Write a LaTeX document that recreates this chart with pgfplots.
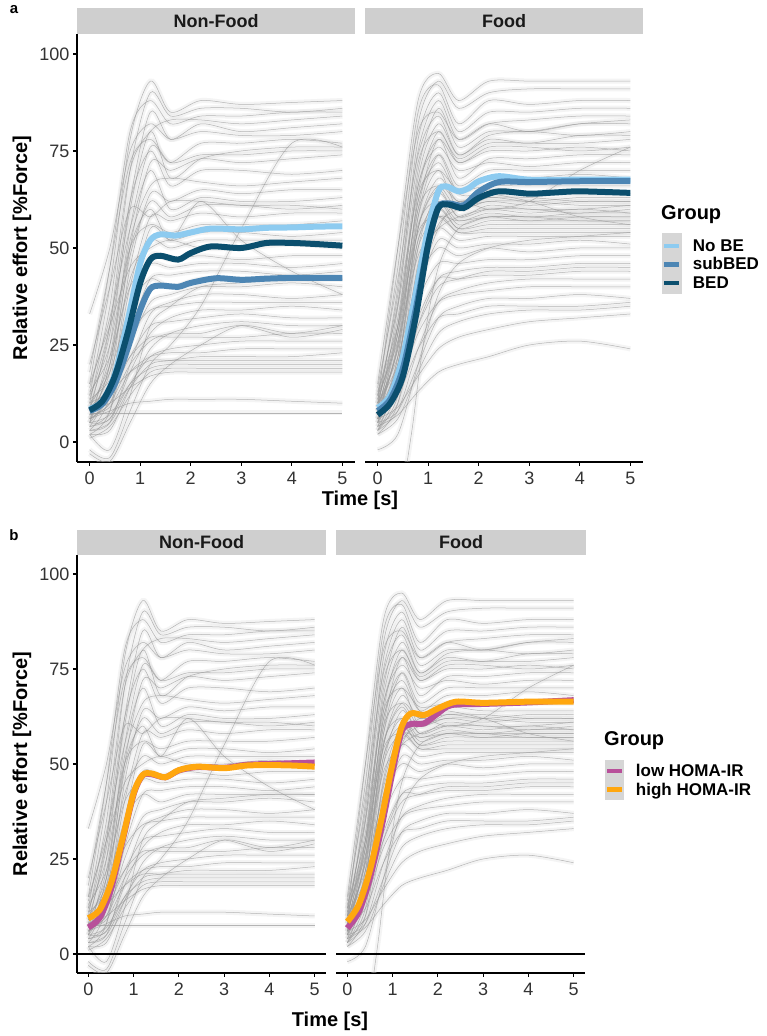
\documentclass[border=0pt]{standalone}
\usepackage{pgfplots}
\pgfplotsset{compat=1.18}
\usepackage{fontspec}
\setmainfont{Liberation Sans}
\definecolor{noBE}{HTML}{8DCBF0}
\definecolor{subBED}{HTML}{4D86B4}
\definecolor{BED}{HTML}{0B4F6E}
\definecolor{lowH}{HTML}{B8509A}
\definecolor{highH}{HTML}{FFA70F}
\definecolor{stripgray}{HTML}{CFCFCF}
\definecolor{keygray}{HTML}{D6D6D6}
\definecolor{tickgray}{HTML}{333333}
\newcommand{\lstrut}{\rule[-4pt]{0pt}{16pt}}

\newcommand{\NFlines}[1]{%
\addplot[#1] coordinates {(0,12)(0.4,40)(0.8,78)(1.2,93)(1.6,85)(2.2,88)(3,87)(4,87.5)(5,88)};
\addplot[#1] coordinates {(0,8)(0.4,30)(0.8,70)(1.2,90)(1.6,84)(2.2,86)(3,86)(4,85)(5,86)};
\addplot[#1] coordinates {(0,15)(0.4,45)(0.8,80)(1.2,88)(1.6,82)(2.2,84)(3,84)(4,85)(5,85)};
\addplot[#1] coordinates {(0,5)(0.4,25)(0.8,62)(1.2,85)(1.6,78)(2.2,82)(3,80)(4,81)(5,82)};
\addplot[#1] coordinates {(0,10)(0.4,35)(0.8,70)(1.2,80)(1.6,83)(2.2,83)(3,82)(4,83)(5,84)};
\addplot[#1] coordinates {(0,33)(0.4,50)(0.8,75)(1.2,82)(1.6,78)(2.2,80)(3,79)(4,79)(5,80)};
\addplot[#1] coordinates {(0,6)(0.4,20)(0.8,55)(1.2,76)(1.6,72)(2.2,77)(3,77)(4,78)(5,77)};
\addplot[#1] coordinates {(0,9)(0.4,28)(0.8,60)(1.2,80)(1.6,68)(2.2,73)(3,75)(4,76)(5,76)};
\addplot[#1] coordinates {(0,4)(0.4,15)(0.8,50)(1.2,72)(1.6,70)(2.2,73)(3,72)(4,73)(5,74)};
\addplot[#1] coordinates {(0,11)(0.4,30)(0.8,62)(1.2,75)(1.6,66)(2.2,70)(3,70)(4,69)(5,70)};
\addplot[#1] coordinates {(0,7)(0.4,22)(0.8,52)(1.2,66)(1.6,68)(2.2,67)(3,66)(4,67)(5,68)};
\addplot[#1] coordinates {(0,3)(0.4,12)(0.8,45)(1.2,64)(1.6,62)(2.2,65)(3,64)(4,65)(5,65)};
\addplot[#1] coordinates {(0,14)(0.4,32)(0.8,55)(1.2,70)(1.6,60)(2.2,63)(3,62)(4,62)(5,63)};
\addplot[#1] coordinates {(0,8)(0.4,18)(0.8,48)(1.2,62)(1.6,58)(2.2,61)(3,61)(4,60)(5,61)};
\addplot[#1] coordinates {(0,5)(0.4,14)(0.8,40)(1.2,58)(1.6,57)(2.2,59)(3,58)(4,59)(5,59)};
\addplot[#1] coordinates {(0,12)(0.4,25)(0.8,50)(1.2,56)(1.6,54)(2.2,56)(3,56)(4,56)(5,57)};
\addplot[#1] coordinates {(0,2)(0.4,8)(0.8,35)(1.2,55)(1.6,52)(2.2,54)(3,54)(4,53)(5,54)};
\addplot[#1] coordinates {(0,9)(0.4,20)(0.8,42)(1.2,52)(1.6,50)(2.2,52)(3,52)(4,52)(5,52)};
\addplot[#1] coordinates {(0,6)(0.4,12)(0.8,35)(1.2,48)(1.6,47)(2.2,48)(3,47)(4,48)(5,48)};
\addplot[#1] coordinates {(0,13)(0.4,22)(0.8,40)(1.2,46)(1.6,45)(2.2,46)(3,46)(4,45)(5,46)};
\addplot[#1] coordinates {(0,4)(0.4,8)(0.8,28)(1.2,42)(1.6,43)(2.2,44)(3,44)(4,43)(5,44)};
\addplot[#1] coordinates {(0,10)(0.4,18)(0.8,35)(1.2,42)(1.6,40)(2.2,42)(3,42)(4,42)(5,42)};
\addplot[#1] coordinates {(0,7)(0.4,10)(0.8,25)(1.2,36)(1.6,38)(2.2,40)(3,40)(4,41)(5,40)};
\addplot[#1] coordinates {(0,3)(0.4,5)(0.8,20)(1.2,33)(1.6,36)(2.2,38)(3,38)(4,37)(5,38)};
\addplot[#1] coordinates {(0,11)(0.4,16)(0.8,28)(1.2,34)(1.6,35)(2.2,36)(3,36)(4,36)(5,36)};
\addplot[#1] coordinates {(0,5)(0.4,6)(0.8,18)(1.2,28)(1.6,32)(2.2,34)(3,34)(4,35)(5,34)};
\addplot[#1] coordinates {(0,8)(0.4,12)(0.8,22)(1.2,30)(1.6,31)(2.2,32)(3,33)(4,32)(5,32)};
\addplot[#1] coordinates {(0,2)(0.4,3)(0.8,14)(1.2,24)(1.6,28)(2.2,30)(3,31)(4,30)(5,30)};
\addplot[#1] coordinates {(0,6)(0.4,10)(0.8,20)(1.2,26)(1.6,28)(2.2,28)(3,30)(4,27)(5,29)};
\addplot[#1] coordinates {(0,9)(0.4,14)(0.8,22)(1.2,27)(1.6,27)(2.2,27)(3,27)(4,28)(5,28)};
\addplot[#1] coordinates {(0,4)(0.4,6)(0.8,15)(1.2,22)(1.6,24)(2.2,25)(3,26)(4,26)(5,26)};
\addplot[#1] coordinates {(0,7)(0.4,9)(0.8,18)(1.2,22)(1.6,23)(2.2,23)(3,24)(4,24)(5,24)};
\addplot[#1] coordinates {(0,3)(0.4,5)(0.8,14)(1.2,20)(1.6,21)(2.2,22)(3,22)(4,22)(5,23)};
\addplot[#1] coordinates {(0,10)(0.4,13)(0.8,18)(1.2,21)(1.6,21)(2.2,21)(3,21)(4,21)(5,21)};
\addplot[#1] coordinates {(0,5)(0.4,7)(0.8,15)(1.2,19)(1.6,20)(2.2,20)(3,20)(4,20)(5,20)};
\addplot[#1] coordinates {(0,1)(0.4,4)(0.8,12)(1.2,18)(1.6,19)(2.2,19)(3,19)(4,19)(5,19)};
\addplot[#1] coordinates {(0,8)(0.4,10)(0.8,14)(1.2,17)(1.6,18)(2.2,18)(3,18)(4,18)(5,18)};
\addplot[#1] coordinates {(0,6)(0.4,8)(0.8,10)(1.2,10.5)(1.6,11)(2.2,11)(3,11)(4,10.5)(5,10)};
\addplot[#1] coordinates {(0,7.5)(0.4,7.5)(0.8,7.5)(1.2,7.5)(1.6,7.5)(2.2,7.5)(3,7.5)(4,7.5)(5,7.5)};
\addplot[#1] coordinates {(0,-2)(0.4,-4)(0.8,8)(1.2,20)(1.6,25)(2.2,35)(3,55)(4,77)(5,76)};
\addplot[#1] coordinates {(0,5)(0.4,20)(0.8,50)(1.2,60)(1.6,52)(2.2,62)(3,52)(4,44)(5,38)};
\addplot[#1] coordinates {(0,-3)(0.4,-5)(0.8,5)(1.2,15)(1.6,20)(2.2,25)(3,30)(4,28)(5,30)};
\addplot[#1] coordinates {(0,18)(0.4,45)(0.8,72)(1.2,78)(1.6,72)(2.2,74)(3,74)(4,75)(5,75)};
\addplot[#1] coordinates {(0,20)(0.4,40)(0.8,60)(1.2,58)(1.6,62)(2.2,62)(3,61)(4,61)(5,60)};
\addplot[#1] coordinates {(0,2)(0.4,-2)(0.8,12)(1.2,30)(1.6,35)(2.2,40)(3,41)(4,42)(5,42)};
\addplot[#1] coordinates {(0,15)(0.4,30)(0.8,45)(1.2,50)(1.6,52)(2.2,50)(3,50)(4,51)(5,50)};
}

\newcommand{\Flines}[1]{%
\addplot[#1] coordinates {(0,10)(0.4,50)(0.8,88)(1.2,95)(1.6,88)(2.2,93)(3,93)(4,93)(5,93)};
\addplot[#1] coordinates {(0,8)(0.4,40)(0.8,82)(1.2,93)(1.6,86)(2.2,90)(3,91)(4,91)(5,91)};
\addplot[#1] coordinates {(0,12)(0.4,45)(0.8,85)(1.2,92)(1.6,82)(2.2,88)(3,87)(4,88)(5,88)};
\addplot[#1] coordinates {(0,6)(0.4,35)(0.8,78)(1.2,90)(1.6,80)(2.2,85)(3,85)(4,86)(5,86)};
\addplot[#1] coordinates {(0,9)(0.4,38)(0.8,75)(1.2,88)(1.6,78)(2.2,82)(3,83)(4,84)(5,84)};
\addplot[#1] coordinates {(0,5)(0.4,30)(0.8,70)(1.2,86)(1.6,76)(2.2,80)(3,80)(4,82)(5,82)};
\addplot[#1] coordinates {(0,14)(0.4,42)(0.8,74)(1.2,84)(1.6,74)(2.2,79)(3,80)(4,79)(5,80)};
\addplot[#1] coordinates {(0,7)(0.4,28)(0.8,68)(1.2,82)(1.6,74)(2.2,78)(3,77)(4,79)(5,79)};
\addplot[#1] coordinates {(0,11)(0.4,36)(0.8,72)(1.2,80)(1.6,73)(2.2,77)(3,77)(4,77)(5,78)};
\addplot[#1] coordinates {(0,4)(0.4,22)(0.8,64)(1.2,80)(1.6,72)(2.2,76)(3,76)(4,75)(5,76)};
\addplot[#1] coordinates {(0,8)(0.4,30)(0.8,66)(1.2,78)(1.6,72)(2.2,75)(3,75)(4,76)(5,75)};
\addplot[#1] coordinates {(0,6)(0.4,25)(0.8,60)(1.2,78)(1.6,68)(2.2,73)(3,73)(4,74)(5,74)};
\addplot[#1] coordinates {(0,10)(0.4,32)(0.8,66)(1.2,76)(1.6,70)(2.2,72)(3,71)(4,72)(5,72)};
\addplot[#1] coordinates {(0,3)(0.4,18)(0.8,58)(1.2,74)(1.6,66)(2.2,70)(3,70)(4,70)(5,70)};
\addplot[#1] coordinates {(0,9)(0.4,28)(0.8,62)(1.2,72)(1.6,64)(2.2,68)(3,68)(4,69)(5,68)};
\addplot[#1] coordinates {(0,12)(0.4,35)(0.8,64)(1.2,70)(1.6,65)(2.2,66)(3,66)(4,66)(5,66)};
\addplot[#1] coordinates {(0,5)(0.4,20)(0.8,55)(1.2,68)(1.6,62)(2.2,65)(3,64)(4,64)(5,64)};
\addplot[#1] coordinates {(0,7)(0.4,25)(0.8,58)(1.2,70)(1.6,60)(2.2,63)(3,62)(4,63)(5,63)};
\addplot[#1] coordinates {(0,10)(0.4,30)(0.8,60)(1.2,66)(1.6,60)(2.2,62)(3,61)(4,62)(5,62)};
\addplot[#1] coordinates {(0,4)(0.4,16)(0.8,50)(1.2,64)(1.6,58)(2.2,61)(3,60)(4,60)(5,61)};
\addplot[#1] coordinates {(0,8)(0.4,24)(0.8,55)(1.2,65)(1.6,58)(2.2,60)(3,60)(4,59)(5,60)};
\addplot[#1] coordinates {(0,6)(0.4,20)(0.8,52)(1.2,62)(1.6,57)(2.2,59)(3,58)(4,59)(5,59)};
\addplot[#1] coordinates {(0,11)(0.4,28)(0.8,56)(1.2,62)(1.6,56)(2.2,58)(3,57)(4,58)(5,58)};
\addplot[#1] coordinates {(0,3)(0.4,14)(0.8,46)(1.2,60)(1.6,55)(2.2,57)(3,57)(4,57)(5,57)};
\addplot[#1] coordinates {(0,9)(0.4,24)(0.8,52)(1.2,60)(1.6,55)(2.2,56)(3,56)(4,56)(5,56)};
\addplot[#1] coordinates {(0,5)(0.4,16)(0.8,45)(1.2,58)(1.6,54)(2.2,55)(3,55)(4,55)(5,55)};
\addplot[#1] coordinates {(0,13)(0.4,30)(0.8,54)(1.2,58)(1.6,54)(2.2,54)(3,54)(4,54)(5,54)};
\addplot[#1] coordinates {(0,7)(0.4,18)(0.8,44)(1.2,55)(1.6,52)(2.2,53)(3,53)(4,53)(5,53)};
\addplot[#1] coordinates {(0,2)(0.4,10)(0.8,38)(1.2,52)(1.6,50)(2.2,51)(3,51)(4,52)(5,51)};
\addplot[#1] coordinates {(0,10)(0.4,22)(0.8,42)(1.2,50)(1.6,48)(2.2,50)(3,49)(4,50)(5,50)};
\addplot[#1] coordinates {(0,6)(0.4,14)(0.8,36)(1.2,46)(1.6,46)(2.2,47)(3,47)(4,48)(5,48)};
\addplot[#1] coordinates {(0,4)(0.4,10)(0.8,30)(1.2,42)(1.6,44)(2.2,45)(3,45)(4,46)(5,46)};
\addplot[#1] coordinates {(0,8)(0.4,15)(0.8,32)(1.2,42)(1.6,42)(2.2,43)(3,43)(4,44)(5,44)};
\addplot[#1] coordinates {(0,3)(0.4,8)(0.8,24)(1.2,36)(1.6,39)(2.2,41)(3,42)(4,42)(5,42)};
\addplot[#1] coordinates {(0,9)(0.4,14)(0.8,28)(1.2,36)(1.6,38)(2.2,39)(3,40)(4,40)(5,40)};
\addplot[#1] coordinates {(0,5)(0.4,8)(0.8,20)(1.2,32)(1.6,35)(2.2,37)(3,37)(4,38)(5,37)};
\addplot[#1] coordinates {(0,7)(0.4,12)(0.8,24)(1.2,32)(1.6,33)(2.2,35)(3,35)(4,35)(5,36)};
\addplot[#1] coordinates {(0,2)(0.4,6)(0.8,18)(1.2,28)(1.6,31)(2.2,33)(3,34)(4,34)(5,35)};
\addplot[#1] coordinates {(0,6)(0.4,9)(0.8,17)(1.2,24)(1.6,27)(2.2,29)(3,31)(4,32)(5,33)};
\addplot[#1] coordinates {(0,4)(0.4,7)(0.8,13)(1.2,18)(1.6,20)(2.2,22)(3,25)(4,26)(5,24)};
\addplot[#1] coordinates {(0.55,-8)(0.7,5)(0.9,25)(1.2,45)(1.6,55)(2.2,58)(3,58)(4,58)(5,58)};
\addplot[#1] coordinates {(0,15)(0.4,50)(0.8,80)(1.2,85)(1.6,78)(2.2,82)(3,80)(4,82)(5,83)};
\addplot[#1] coordinates {(0,10)(0.4,20)(0.8,40)(1.2,55)(1.6,62)(2.2,60)(3,62)(4,70)(5,76)};
\addplot[#1] coordinates {(0,6)(0.4,26)(0.8,62)(1.2,74)(1.6,64)(2.2,64)(3,62)(4,58)(5,56)};
\addplot[#1] coordinates {(0,8)(0.4,20)(0.8,50)(1.2,58)(1.6,57)(2.2,58)(3,58)(4,57)(5,57)};
\addplot[#1] coordinates {(0,3)(0.4,12)(0.8,42)(1.2,56)(1.6,60)(2.2,62)(3,62)(4,61)(5,61)};
\addplot[#1] coordinates {(0,12)(0.4,26)(0.8,48)(1.2,55)(1.6,58)(2.2,60)(3,59)(4,60)(5,59)};
\addplot[#1] coordinates {(0,5)(0.4,22)(0.8,55)(1.2,66)(1.6,62)(2.2,63)(3,63)(4,62)(5,62)};
\addplot[#1] coordinates {(0,9)(0.4,16)(0.8,30)(1.2,40)(1.6,42)(2.2,44)(3,44)(4,45)(5,45)};
\addplot[#1] coordinates {(0,-2)(0.4,2)(0.8,20)(1.2,38)(1.6,46)(2.2,50)(3,52)(4,53)(5,54)};
}

\pgfplotsset{
  facet/.style={scale only axis, xmin=-0.25, xmax=5.25,
    axis line style={line width=1.1pt, black},
    every tick/.style={black, line width=1.1pt},
    major tick length=4pt, tick align=outside,
    xtick={0,1,2,3,4,5}, ytick={0,25,50,75,100},
    ticklabel style={font=\fontsize{18}{18}\selectfont, text=tickgray},
    xticklabel style={yshift=-2.5pt},
    /pgf/number format/assume math mode=true,
    legend cell align=left,
    legend image code/.code={%
      \path[draw=none, fill=none] (0pt,-1pt) rectangle (31pt,1pt);
      \draw[line width=4.5pt] (2.5pt,0pt) -- (17.5pt,0pt);},
    legend style={draw=none, fill=none, inner sep=0pt, outer sep=0pt,
      row sep=5pt, anchor=north west,
      font=\bfseries\fontsize{17}{17}\selectfont,
      nodes={inner sep=0pt}},
  },
  band/.style={smooth, line width=5pt, color=black!12, opacity=0.35, forget plot},
  gline/.style={smooth, line width=0.5pt, color=black!40, opacity=0.7, forget plot},
  mean/.style={smooth, line width=6pt},
}

\begin{document}
\begin{tikzpicture}
\useasboundingbox (0pt,0pt) rectangle (766pt,1036pt);
\fill[white] (0pt,0pt) rectangle (766pt,1036pt);
% legend key backgrounds
\fill[keygray] (662pt,742pt) rectangle (682pt,803pt);
\fill[keygray] (605pt,236pt) rectangle (624pt,276pt);

% ---------------- panel a, Non-Food
\begin{axis}[facet, at={(77pt,574pt)}, anchor=south west, width=278pt, height=428pt,
  ymin=-5.15, ymax=105.15, axis x line*=bottom, axis y line*=left]
\NFlines{band}
\NFlines{gline}
\addplot[mean, noBE] coordinates {(0,8.5)(0.25,10.5)(0.5,17.5)(0.75,31)(1,46)(1.2,52)(1.4,53.5)(1.7,53.2)(2,54)(2.4,55)(3,54.8)(3.5,55.2)(4,55.3)(4.5,55.5)(5,55.6)};
\addplot[mean, subBED] coordinates {(0,8)(0.25,9.8)(0.5,15)(0.75,24)(1,34)(1.2,39.5)(1.4,40.3)(1.75,40)(2,41)(2.5,42.2)(3,41.8)(3.5,42.1)(4,42.3)(4.5,42.3)(5,42.3)};
\addplot[mean, BED] coordinates {(0,8.2)(0.25,10.5)(0.5,17)(0.75,28)(1,41)(1.2,47)(1.4,48)(1.75,47)(2,48.7)(2.4,50.4)(3,50)(3.5,51.3)(4,51.3)(4.5,51)(5,50.6)};
\end{axis}

% ---------------- panel a, Food
\begin{axis}[facet, at={(365pt,574pt)}, anchor=south west, width=278pt, height=428pt,
  ymin=-5.15, ymax=105.15, axis x line*=bottom, hide y axis,
  legend style={at={(1.068,0.521)}}]
\Flines{band}
\Flines{gline}
\addplot[mean, noBE] coordinates {(0,8.8)(0.25,12)(0.5,22)(0.75,38)(1,55)(1.2,64.6)(1.35,65.9)(1.6,64.6)(1.8,65.4)(2,67.2)(2.4,68.5)(3,67.6)(4,67.6)(5,67.6)};
\addlegendentry{\lstrut No BE}
\addplot[mean, subBED] coordinates {(0,8)(0.25,11)(0.5,19)(0.75,34)(1,51)(1.2,60.5)(1.4,61.5)(1.7,61)(2,64.5)(2.4,67)(3,67)(4,67.2)(5,67.2)};
\addlegendentry{\lstrut subBED}
\addplot[mean, BED] coordinates {(0,7)(0.25,10)(0.5,17)(0.75,32)(1,51)(1.2,60.3)(1.4,61.2)(1.7,60.3)(2,62.9)(2.4,64.6)(3,64)(3.5,64.3)(4,64.6)(5,64.2)};
\addlegendentry{\lstrut BED}
\end{axis}

% ---------------- panel b, Non-Food
\begin{axis}[facet, at={(77pt,63pt)}, anchor=south west, width=249pt, height=418pt,
  ymin=-5, ymax=105, axis x line*=bottom, axis y line*=left]
\NFlines{band}
\NFlines{gline}
\addplot[black, line width=1.1pt, forget plot] coordinates {(-0.25,0)(5.25,0)};
\addplot[mean, lowH] coordinates {(0,7)(0.25,9.5)(0.5,17)(0.75,29.5)(1,42)(1.2,47)(1.4,47.3)(1.7,46.5)(2,48.3)(2.4,49.2)(3,49)(3.5,49.8)(4,50)(4.5,50.2)(5,50.4)};
\addplot[mean, highH] coordinates {(0,9.4)(0.25,11.6)(0.5,18.6)(0.75,30)(1,42.3)(1.2,47.1)(1.4,47.5)(1.7,46.5)(2,48.4)(2.4,49.3)(3,48.9)(3.5,49.6)(4,49.7)(4.5,49.6)(5,49.3)};
\end{axis}

% ---------------- panel b, Food
\begin{axis}[facet, at={(336pt,63pt)}, anchor=south west, width=249pt, height=418pt,
  ymin=-5, ymax=105, axis x line*=bottom, hide y axis,
  legend style={at={(1.08,0.5)}}]
\Flines{band}
\Flines{gline}
\addplot[black, line width=1.1pt, forget plot] coordinates {(-0.25,0)(5.25,0)};
\addplot[mean, lowH] coordinates {(0,6.8)(0.25,11)(0.5,20)(0.75,33)(1,48)(1.2,58.5)(1.4,60.5)(1.7,60.7)(2,63.3)(2.3,65.5)(3,65.8)(4,66.2)(5,66.8)};
\addlegendentry{\lstrut low HOMA-IR}
\addplot[mean, highH] coordinates {(0,8.5)(0.25,12.9)(0.5,22.1)(0.75,35.3)(1,50.2)(1.2,59.8)(1.4,63.3)(1.7,62.9)(2,64.6)(2.4,66.4)(3,66.1)(4,66.4)(5,66.4)};
\addlegendentry{\lstrut high HOMA-IR}
\end{axis}

% ---------------- strips, titles, labels
\begin{scope}[every node/.style={inner sep=0pt, font=\bfseries\fontsize{18}{18}\selectfont, text=black!90}]
\node[fill=stripgray, minimum width=278pt, minimum height=26pt, anchor=south west] at (77pt,1002pt) {Non-Food};
\node[fill=stripgray, minimum width=278pt, minimum height=26pt, anchor=south west] at (365pt,1002pt) {Food};
\node[fill=stripgray, minimum width=249pt, minimum height=25pt, anchor=south west] at (77pt,481pt) {Non-Food};
\node[fill=stripgray, minimum width=250pt, minimum height=25pt, anchor=south west] at (336pt,481pt) {Food};
\end{scope}
\begin{scope}[every node/.style={inner sep=0pt, font=\bfseries\fontsize{20}{20}\selectfont}]
\node[rotate=90] at (22pt,788pt) {Relative effort [\%Force]};
\node[rotate=90] at (22pt,272pt) {Relative effort [\%Force]};
\node at (360pt,536pt) {Time [s]};
\node at (330pt,15pt) {Time [s]};
\node[anchor=west] at (661pt,821pt) {Group};
\node[anchor=west] at (604pt,295pt) {Group};
\end{scope}
\node[inner sep=0pt, font=\bfseries\fontsize{15}{15}\selectfont] at (14pt,1026pt) {a};
\node[inner sep=0pt, font=\bfseries\fontsize{15}{15}\selectfont] at (14pt,501pt) {b};
\end{tikzpicture}
\end{document}
